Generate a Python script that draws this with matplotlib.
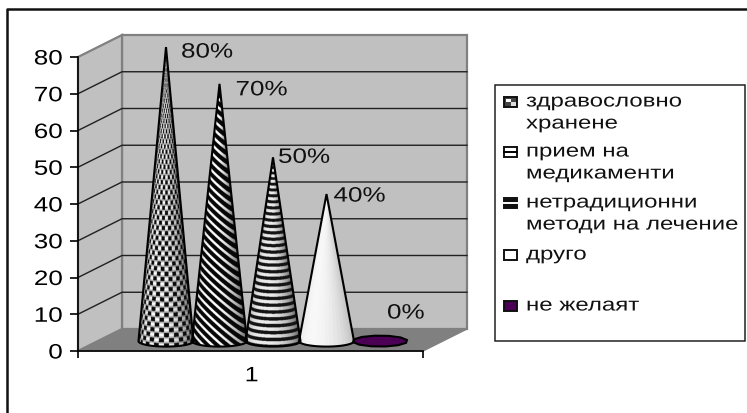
#Python
# -*- coding: utf-8 -*-
"""
Cone chart of the answers in the survey, drawn as a 3D looking column chart.
"""

import numpy as np
import matplotlib
matplotlib.use('Agg')
import matplotlib.pyplot as plt
from matplotlib.patches import Polygon, Rectangle
from matplotlib.patheffects import AbstractPathEffect
from matplotlib.transforms import Affine2D

plt.rcParams['font.family'] = ['Liberation Sans', 'DejaVu Sans']

category = ['1']
series = ['здравословно\nхранене', 'прием на\nмедикаменти',
          'нетрадиционни\nметоди на лечение', 'друго', 'не желаят']
values = [80, 70, 50, 40, 0]
ticks = [0, 10, 20, 30, 40, 50, 60, 70, 80]

W, H = 747, 414
# front plane of the chart in pixels, the axes are laid over it
LEFT, RIGHT, BOTTOM, TOP = 78, 423, 352, 58
PX_X = 53.5                      # pixels per cone slot
PX_Y = (BOTTOM - TOP) / 80       # pixels per percent
DX, DY = 44 / PX_X, 22 / PX_Y    # depth of the box
BASE = 2.7                       # cones stand in the middle of the floor
HW, EH = 27.5 / PX_X, 5.5 / PX_Y
PURPLE = '#4b0055'


class Stretch(AbstractPathEffect):
    """Widen the glyphs of a text around its left or right end."""
    def __init__(self, sx=1.25, anchor='left'):
        super().__init__()
        self.sx = sx
        self.anchor = anchor

    def draw_path(self, renderer, gc, tpath, affine, rgbFace=None):
        x0 = 0 if self.anchor == 'left' else tpath.get_extents().x1
        t = Affine2D().translate(-x0, 0).scale(self.sx, 1).translate(x0, 0)
        renderer.draw_path(gc, tpath, t + affine, rgbFace)


def cone_outline(cx, v, n=60):
    ang = np.linspace(0, np.pi, n)
    arc = np.column_stack([cx + HW * np.cos(ang), BASE - EH * np.sin(ang)])
    if v == 0:
        ang = np.linspace(0, 2 * np.pi, 13)[:-1] + 0.2
        return np.column_stack([cx + HW * np.cos(ang), BASE + EH * np.sin(ang)])
    return np.vstack([[cx, BASE + v], arc])


def cone_texture(cx, v, kind):
    # surface coordinates of the cone for every sample of the image
    xs = np.linspace(cx - HW, cx + HW, 220)
    ys = np.linspace(BASE - EH, BASE + v, int(v * PX_Y * 3) + 40)
    X, Y = np.meshgrid(xs, ys)
    apex = BASE + v
    s = np.clip((apex - Y) / v, 1e-3, None)
    for _ in range(4):
        u = np.clip((X - cx) / (HW * s), -1, 1)
        s = np.clip((apex - Y) / (v + EH * np.sqrt(1 - u * u)), 1e-3, None)
    theta = np.arcsin(u)
    hpx = s * v * PX_Y
    wpx = u * HW * PX_X * s
    light = np.clip(0.5 + 0.52 * np.cos(theta + 0.4), 0, 1)
    if kind == 0:
        a = theta * 5.2
        b = hpx / 5.0
        cell = np.cos(np.pi * (a + np.floor(b) % 2)) * 0.5 + 0.5
        row = np.sin(np.pi * (b % 1))
        img = np.where((cell > 0.5) & (row > 0.35), 0.04, light * (0.62 + 0.38 * row))
    elif kind == 1:
        img = np.where(((hpx - 0.85 * wpx) / 8.5) % 1 < 0.62, 0.03, light)
    elif kind == 2:
        # stripes get denser towards the apex
        img = np.where((hpx ** 0.9 / 3.6) % 1 < 0.5, 0.08, light * 0.92)
    else:
        img = 0.8 + 0.17 * np.cos(np.round(theta * 6) / 6 + 0.6)
    return img, (cx - HW, cx + HW, BASE - EH, BASE + v)


fig = plt.figure(figsize=(W / 100, H / 100), dpi=100)
ax = fig.add_axes([LEFT / W, 1 - BOTTOM / H, (RIGHT - LEFT) / W, (BOTTOM - TOP) / H])
ax.patch.set_alpha(0)
xl, xr = (LEFT - 166) / PX_X, (RIGHT - 166) / PX_X

# walls and floor of the box
back = Polygon([(xl + DX, DY), (xr + DX, DY), (xr + DX, 80 + DY), (xl + DX, 80 + DY)],
               fc='#c0c0c0', ec='#808080', lw=1.6, clip_on=False, zorder=1)
side = Polygon([(xl, 0), (xl + DX, DY), (xl + DX, 80 + DY), (xl, 80)],
               fc='#c0c0c0', ec='#808080', lw=1.6, clip_on=False, zorder=1)
floor = Polygon([(xl, 0), (xr, 0), (xr + DX, DY), (xl + DX, DY)],
                fc='#808080', ec='#808080', lw=1, clip_on=False, zorder=1.5)
ax.add_patch(back)
ax.add_patch(side)
ax.add_patch(floor)
for t in ticks[1:-1]:
    ax.plot([xl, xl + DX, xr + DX], [t, t + DY, t + DY], color='#202020', lw=1,
            clip_on=False, zorder=1.2)

# the cones
for i, v in enumerate(values):
    pts = cone_outline(i, v)
    poly = Polygon(pts, closed=True, fc=PURPLE if v == 0 else 'none', ec='none', clip_on=False, zorder=3)
    ax.add_patch(poly)
    if v > 0:
        img, extent = cone_texture(i, v, i)
        im = ax.imshow(img, extent=extent, origin='lower', cmap='gray', vmin=0, vmax=1,
                       aspect='auto', zorder=3, interpolation='antialiased')
        im.set_clip_path(poly)
    ax.add_patch(Polygon(pts, closed=True, fc='none', ec='black', lw=1.5, clip_on=False, zorder=4))

# value labels next to the apex
label_offsets = [(15, -5), (16, -6), (5, 0), (7, -2), (7, 28)]
for i, v in enumerate(values):
    t = ax.annotate(f'{v}%', xy=(i, BASE + v), xytext=label_offsets[i], textcoords='offset pixels',
                    fontsize=15, va='center', ha='left', color='#111111', zorder=5,
                    annotation_clip=False)
    t.set_path_effects([Stretch()])

ax.set_xlim(xl, xr)
ax.set_ylim(0, 80)
ax.set_yticks(ticks)
ax.tick_params(axis='y', length=6, width=1.2, pad=5, labelsize=15)
for lab in ax.get_yticklabels():
    lab.set_path_effects([Stretch(anchor='right')])
ax.set_xticks([xl, xr], ['', ''])
ax.tick_params(axis='x', length=5, width=1.2)
ax.set_xticks([(xl + xr) / 2], category, minor=True)
ax.tick_params(axis='x', which='minor', length=0, pad=11, labelsize=15)
for lab in ax.get_xticklabels(minor=True):
    lab.set_path_effects([Stretch(sx=1.2)])
ax.spines['top'].set_visible(False)
ax.spines['right'].set_visible(False)
ax.spines['left'].set_linewidth(1.2)
ax.spines['bottom'].set_linewidth(1.2)
for s in ('left', 'bottom'):
    ax.spines[s].set_zorder(2)

# outer frame and legend, in pixel coordinates
over = fig.add_axes([0, 0, 1, 1], zorder=10)
over.set_xlim(0, W)
over.set_ylim(H, 0)
over.axis('off')
over.plot([7, 7, W], [H, 10, 10], color='#111111', lw=1.8)
over.add_patch(Rectangle((495, 86), 250, 256, fc='white', ec='#222222', lw=1.1))

row_y = [103, 153, 204, 256, 307]
swatch_face = ['#444444', 'white', '#111111', 'white', PURPLE]
swatch_line = [None, 'black', 'white', None, None]
for y, lab, face, line in zip(row_y, series, swatch_face, swatch_line):
    over.add_patch(Rectangle((504, y - 5), 13, 10, fc=face, ec='#111111', lw=1.4))
    if line:
        over.plot([504, 517], [y, y], color=line, lw=1.4)
    if face == '#444444':
        over.add_patch(Rectangle((505.5, y - 3.5), 5, 3.5, fc='white', ec='none'))
        over.add_patch(Rectangle((511, y), 5, 3.5, fc='#dddddd', ec='none'))
    for j, part in enumerate(lab.split('\n')):
        t = over.text(526, y + j * 22, part, fontsize=13.3, va='center', ha='left', color='#111111')
        t.set_path_effects([Stretch(sx=1.3)])

plt.savefig('out.png', dpi=100)
